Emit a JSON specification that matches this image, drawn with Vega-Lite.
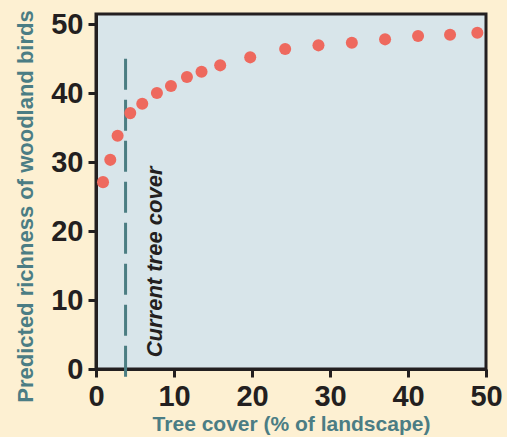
{
  "$schema": "https://vega.github.io/schema/vega-lite/v6.json",
  "autosize": {"type": "none"},
  "width": 390,
  "height": 355,
  "padding": {"left": 96, "top": 14, "right": 21, "bottom": 68},
  "background": "#FDF0D2",
  "config": {
    "view": {"fill": "#D8E5EA", "stroke": "#231f20", "strokeWidth": 3},
    "font": "Liberation Sans",
    "axis": {
      "grid": false,
      "domainColor": "#231f20",
      "domainWidth": 3,
      "tickColor": "#231f20",
      "tickWidth": 3,
      "tickSize": 8,
      "labelFont": "Liberation Sans",
      "labelFontSize": 29,
      "labelFontWeight": "bold",
      "labelColor": "#231f20",
      "titleFont": "Liberation Sans",
      "titleFontSize": 22,
      "titleFontWeight": "bold",
      "titleColor": "#4B7D84"
    }
  },
  "datasets": {
    "pts": [
      {"cover": 0.90, "richness": 27.11},
      {"cover": 1.83, "richness": 30.34},
      {"cover": 2.77, "richness": 33.83},
      {"cover": 4.39, "richness": 37.12},
      {"cover": 5.93, "richness": 38.47},
      {"cover": 7.81, "richness": 40.03},
      {"cover": 9.61, "richness": 41.04},
      {"cover": 11.66, "richness": 42.35},
      {"cover": 13.53, "richness": 43.12},
      {"cover": 15.92, "richness": 44.05},
      {"cover": 19.77, "richness": 45.21},
      {"cover": 24.25, "richness": 46.41},
      {"cover": 28.52, "richness": 46.95},
      {"cover": 32.80, "richness": 47.33},
      {"cover": 37.06, "richness": 47.82},
      {"cover": 41.29, "richness": 48.30},
      {"cover": 45.39, "richness": 48.49},
      {"cover": 48.89, "richness": 48.78}
    ],
    "current": [
      {"cover": 3.79, "top": 45, "bottom": -1.64}
    ],
    "label": [
      {"cover": 7.6, "richness": 1.7, "text": "Current tree cover"}
    ]
  },
  "layer": [
    {
      "data": {"name": "current"},
      "mark": {"type": "rule", "color": "#4B7D82", "strokeWidth": 3, "strokeDash": [31, 10]},
      "encoding": {
        "x": {"field": "cover", "type": "quantitative", "scale": {"domain": [0, 50], "nice": false}},
        "y": {"field": "top", "type": "quantitative", "scale": {"domain": [0, 51.5], "nice": false}},
        "y2": {"field": "bottom"}
      }
    },
    {
      "data": {"name": "pts"},
      "mark": {"type": "circle", "color": "#EE695E", "opacity": 1, "size": 145},
      "encoding": {
        "x": {"field": "cover", "type": "quantitative", "scale": {"domain": [0, 50], "nice": false},
          "axis": {"values": [0, 10, 20, 30, 40, 50], "title": "Tree cover (% of landscape)", "labelPadding": 5, "titleY": 55, "titleFontSize": 21, "titleBaseline": "middle", "labelFlush": false}},
        "y": {"field": "richness", "type": "quantitative", "scale": {"domain": [0, 51.5], "nice": false},
          "axis": {"values": [0, 10, 20, 30, 40, 50], "title": "Predicted richness of woodland birds", "labelPadding": 5, "titleX": -71, "titleY": 192, "titleBaseline": "middle", "titleAngle": -90, "labelFlush": false}}
      }
    },
    {
      "data": {"name": "label"},
      "mark": {"type": "text", "angle": 270, "align": "left", "baseline": "middle", "fontSize": 22, "fontWeight": "bold", "fontStyle": "italic", "color": "#231f20", "font": "Liberation Sans"},
      "encoding": {
        "x": {"field": "cover", "type": "quantitative"},
        "y": {"field": "richness", "type": "quantitative"},
        "text": {"field": "text"}
      }
    }
  ]
}
